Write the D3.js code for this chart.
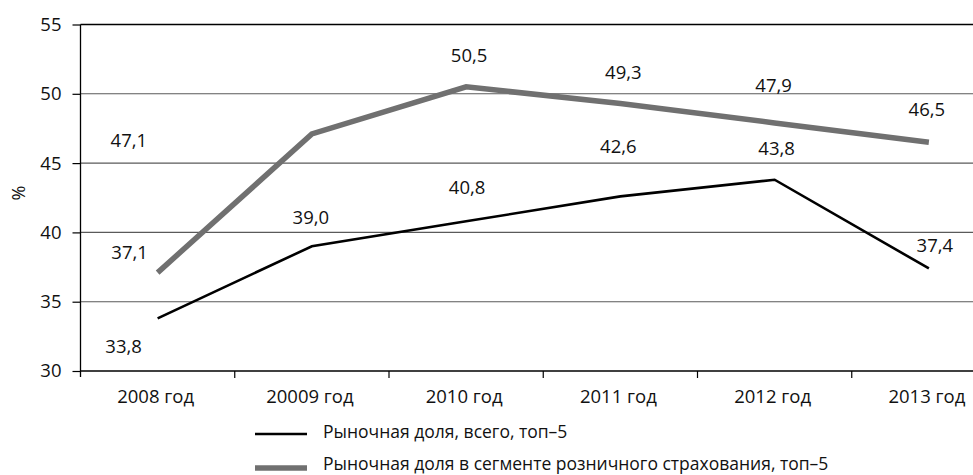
<!DOCTYPE html>
<html>
<head>
<meta charset="utf-8">
<script src="https://cdn.jsdelivr.net/npm/d3@7"></script>
<style>
  html, body { margin: 0; padding: 0; background: #fff; }
  svg { display: block; font-family: "Open Sans", "Noto Sans", sans-serif; }
</style>
</head>
<body>
<svg id="chart" width="973" height="475"></svg>
<script>
// ---- data ----
const categories = ["2008 год", "20009 год", "2010 год", "2011 год", "2012 год", "2013 год"];
const totalShare = [33.8, 39.0, 40.8, 42.6, 43.8, 37.4];
const retailShare = [37.1, 47.1, 50.5, 49.3, 47.9, 46.5];
const yTicks = [30, 35, 40, 45, 50, 55];
const seriesNames = ["Рыночная доля, всего, топ–5", "Рыночная доля в сегменте розничного страхования, топ–5"];
const yTitle = "%";

// label offsets (style: manual label placement, relative to point)
const totalLabelOffset = [[-34, 27], [-1, -30], [1, -35], [-2, -51], [2, -32], [6, -24]];
const retailLabelOffset = [[-28, -21], [-183, 6], [3, -32], [3, -32], [-1, -38], [-2, -34]];

const fmt = v => v.toFixed(1).replace(".", ",");

const svg = d3.select("#chart");
const x = d3.scaleBand().domain(categories).range([80.5, 1006]).paddingInner(0).paddingOuter(0);
const y = d3.scaleLinear().domain([30, 55]).range([371, 24.5]);
const cx = c => x(c) + x.bandwidth() / 2;
const left = 80.5, right = 1006;
const FS = 18.5;

// gridlines
svg.append("g").selectAll("line").data(yTicks.filter(t => t !== 30)).join("line")
  .attr("x1", left).attr("x2", right)
  .attr("y1", d => y(d)).attr("y2", d => y(d))
  .attr("stroke", d => d === 55 ? "#000" : "#5a5a5a").attr("stroke-width", d => d === 55 ? 1.3 : 1.1);

// y axis
const yAxis = svg.append("g").attr("transform", `translate(${left},0)`)
  .call(d3.axisLeft(y).tickValues(yTicks).tickSize(8).tickPadding(11).tickFormat(d => d));
yAxis.select(".domain").attr("d", `M0,${y(55)}V${y(30) + 6}`).attr("stroke", "#000").attr("stroke-width", 1.3);
yAxis.selectAll(".tick line").attr("stroke", "#000").attr("stroke-width", 1.2);
yAxis.selectAll(".tick text").attr("font-size", FS).attr("fill", "#111").attr("font-family", "Open Sans");

// x axis
const xAxisG = svg.append("g").attr("transform", `translate(0,${y(30)})`);
xAxisG.append("line").attr("x1", left).attr("x2", right).attr("y1", 0).attr("y2", 0)
  .attr("stroke", "#000").attr("stroke-width", 1.3);
xAxisG.selectAll("line.tk").data(categories.slice(1)).join("line").attr("class", "tk")
  .attr("x1", d => x(d)).attr("x2", d => x(d)).attr("y1", 0).attr("y2", 7)
  .attr("stroke", "#000").attr("stroke-width", 1.2);
xAxisG.selectAll("text").data(categories).join("text")
  .attr("x", d => cx(d) - 2).attr("y", 24).attr("text-anchor", "middle")
  .attr("dominant-baseline", "central").attr("font-size", FS).attr("fill", "#111")
  .text(d => d);

// y title
svg.append("text").attr("transform", `translate(18,193) rotate(-90)`)
  .attr("text-anchor", "middle").attr("dominant-baseline", "central")
  .attr("font-size", 18).attr("fill", "#111").text(yTitle);

// lines
const line = d3.line().x((d, i) => cx(categories[i])).y(d => y(d));
svg.append("path").datum(retailShare).attr("d", line)
  .attr("fill", "none").attr("stroke", "#707070").attr("stroke-width", 5.5).attr("stroke-linejoin", "miter");
svg.append("path").datum(totalShare).attr("d", line)
  .attr("fill", "none").attr("stroke", "#000").attr("stroke-width", 2.6);

// labels
function labels(data, offs) {
  svg.append("g").selectAll("text").data(data).join("text")
    .attr("x", (d, i) => cx(categories[i]) + offs[i][0])
    .attr("y", (d, i) => y(d) + offs[i][1])
    .attr("text-anchor", "middle").attr("dominant-baseline", "central")
    .attr("font-size", FS).attr("fill", "#111")
    .text(d => fmt(d));
}
labels(totalShare, totalLabelOffset);
labels(retailShare, retailLabelOffset);

// legend
const legend = svg.append("g");
const legendItems = [
  { name: seriesNames[0], color: "#000", w: 2.6, y: 434, ty: 431 },
  { name: seriesNames[1], color: "#707070", w: 5.5, y: 468, ty: 462.5 }
];
legendItems.forEach(it => {
  legend.append("line").attr("x1", 255).attr("x2", 307).attr("y1", it.y).attr("y2", it.y)
    .attr("stroke", it.color).attr("stroke-width", it.w);
  legend.append("text").attr("x", 323).attr("y", it.ty).attr("dominant-baseline", "central")
    .attr("font-size", 17.5).attr("fill", "#111").text(it.name);
});
</script>
</body>
</html>
